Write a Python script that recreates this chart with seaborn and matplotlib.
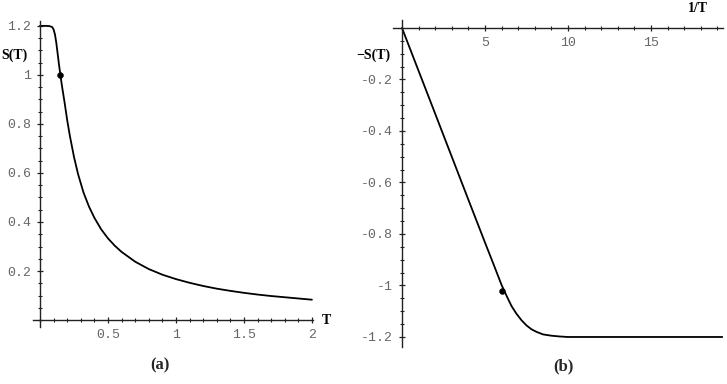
import matplotlib
matplotlib.use("Agg")
import matplotlib.pyplot as plt
import seaborn as sns
import pandas as pd
from matplotlib.ticker import MultipleLocator, FuncFormatter

# ---- data ----
T_a = [0.0, 0.04, 0.07, 0.09, 0.10, 0.11, 0.12, 0.13, 0.14, 0.15, 0.16, 0.18, 0.20,
       0.22, 0.25, 0.28, 0.32, 0.36, 0.40, 0.45, 0.50, 0.55, 0.60, 0.70, 0.80, 0.90,
       1.00, 1.10, 1.20, 1.30, 1.40, 1.50, 1.60, 1.70, 1.80, 1.90, 2.00]
S_a = [1.2, 1.2, 1.199, 1.195, 1.185, 1.165, 1.13, 1.085, 1.04, 1.0, 0.96, 0.89, 0.815,
       0.75, 0.665, 0.595, 0.52, 0.463, 0.417, 0.37, 0.333, 0.303, 0.278, 0.238, 0.208, 0.185,
       0.167, 0.152, 0.139, 0.128, 0.119, 0.111, 0.104, 0.098, 0.093, 0.088, 0.083]
dot_a_T = [0.15]
dot_a_S = [1.0]

invT_b = [0.0, 2.0, 4.0, 5.0, 5.5, 6.0, 6.3, 6.6, 6.9, 7.2, 7.5, 7.8, 8.1, 8.5, 9.0,
          9.5, 10.0, 11.0, 12.0, 15.0, 19.3]
negS_b = [0.0, -0.333, -0.667, -0.833, -0.915, -0.998, -1.04, -1.08, -1.11, -1.135,
          -1.155, -1.17, -1.18, -1.19, -1.195, -1.198, -1.2, -1.2, -1.2, -1.2, -1.2]
dot_b_x = [6.05]
dot_b_y = [-1.02]

xticks_a = [0.5, 1, 1.5, 2]
yticks_a = [0.2, 0.4, 0.6, 0.8, 1.0, 1.2]
xticks_b = [5, 10, 15]
yticks_b = [-0.2, -0.4, -0.6, -0.8, -1.0, -1.2]

sns.set_style("white")
plt.rcParams['font.family'] = ['Liberation Serif', 'DejaVu Serif']

fig = plt.figure(figsize=(7.27, 3.84), dpi=100)
ax_a = fig.add_axes([0.0457, 0.1474, 0.3852, 0.798])
ax_b = fig.add_axes([0.5404, 0.0956, 0.4543, 0.8516])

fmt = FuncFormatter(lambda v, p: "%g" % v)


def style_axes(ax, xt, yt, xminor, yminor):
    for s in ['top', 'right']:
        ax.spines[s].set_visible(False)
    ax.spines['left'].set_position(('data', 0))
    ax.spines['bottom'].set_position(('data', 0))
    for s in ['left', 'bottom']:
        ax.spines[s].set_linewidth(1.0)
        ax.spines[s].set_color('#222222')
    ax.set_xticks(xt)
    ax.set_yticks(yt)
    ax.xaxis.set_minor_locator(MultipleLocator(xminor))
    ax.yaxis.set_minor_locator(MultipleLocator(yminor))
    ax.xaxis.set_major_formatter(fmt)
    ax.yaxis.set_major_formatter(fmt)
    ax.tick_params(which='both', bottom=True, left=True, top=False, right=False)
    ax.tick_params(which='major', direction='inout', length=5, width=0.9, color='#222222', pad=4)
    ax.tick_params(which='minor', direction='inout', length=3, width=0.8, color='#222222')
    for lab in ax.get_xticklabels() + ax.get_yticklabels():
        lab.set_fontfamily('Liberation Mono')
        lab.set_fontsize(9.5)
        lab.set_color('#666666')
    ax.set_xlabel('')
    ax.set_ylabel('')
    ax.patch.set_alpha(0)


# panel (a)
df_a = pd.DataFrame({'T': T_a, 'S': S_a})
sns.lineplot(data=df_a, x='T', y='S', ax=ax_a, color='black', linewidth=1.3)
sns.scatterplot(x=dot_a_T, y=dot_a_S, ax=ax_a, color='black', s=18, edgecolor='black', zorder=5)
ax_a.set_xlim(-0.05, 2.01)
ax_a.set_ylim(-0.03, 1.22)
style_axes(ax_a, xticks_a, yticks_a, 0.1, 0.05)

# panel (b)
df_b = pd.DataFrame({'x': invT_b, 'y': negS_b})
sns.lineplot(data=df_b, x='x', y='y', ax=ax_b, color='black', linewidth=1.3)
sns.scatterplot(x=dot_b_x, y=dot_b_y, ax=ax_b, color='black', s=18, edgecolor='black', zorder=5)
ax_b.set_xlim(-0.55, 19.35)
ax_b.set_ylim(-1.24, 0.03)
style_axes(ax_b, xticks_b, yticks_b, 1, 0.05)

# axis labels and panel captions
bold = dict(fontweight='bold', fontsize=10, color='black')
fig.text(1 / 727, 1 - 55 / 384, 'S(T)', ha='left', va='center', **bold)
fig.text(326 / 727, 1 - 320 / 384, 'T', ha='center', va='center', **bold)
fig.text(373 / 727, 1 - 55 / 384, '\u2212S(T)', ha='center', va='center', **bold)
fig.text(698 / 727, 1 - 9 / 384, '1/T', ha='center', va='center', **bold)
fig.text(160 / 727, 1 - 365 / 384, '(a)', ha='center', va='center', fontweight='bold', fontsize=12)
fig.text(563 / 727, 1 - 366 / 384, '(b)', ha='center', va='center', fontweight='bold', fontsize=12)

fig.savefig('out.png', dpi=100)
